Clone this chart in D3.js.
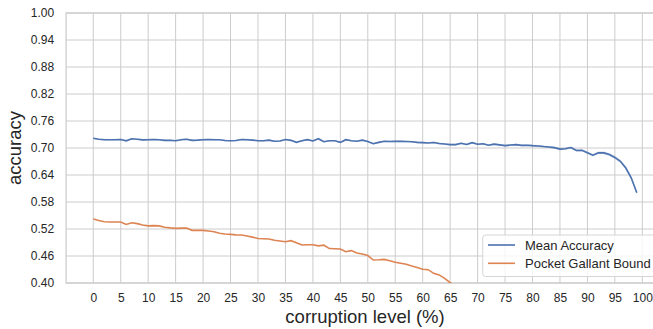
<!DOCTYPE html>
<html><head><meta charset="utf-8">
<script src="https://cdn.jsdelivr.net/npm/d3@7"></script>
<style>body{margin:0;background:#fff}svg{display:block}text{font-family:"Liberation Sans",Arial,sans-serif;fill:#262626}</style>
</head><body>
<svg id="c" width="653" height="329"></svg>
<script>
const meanAcc = [0.7215,0.7195,0.7185,0.7182,0.7185,0.719,0.716,0.7205,0.7195,0.718,
0.7185,0.7188,0.7183,0.717,0.7172,0.7162,0.7185,0.7195,0.717,0.7175,
0.7185,0.719,0.7185,0.7182,0.7165,0.7162,0.7168,0.719,0.7185,0.7175,
0.716,0.716,0.7175,0.715,0.7155,0.719,0.717,0.7125,0.716,0.7185,
0.7155,0.7207,0.714,0.7162,0.716,0.7125,0.7185,0.716,0.715,0.7175,
0.7145,0.7096,0.7125,0.715,0.7145,0.715,0.7148,0.7145,0.7138,0.7125,
0.712,0.7112,0.7122,0.710,0.7088,0.7075,0.7075,0.7105,0.7078,0.7118,
0.7085,0.7095,0.7062,0.7085,0.707,0.7052,0.7065,0.7075,0.7058,0.7062,
0.7052,0.7045,0.7032,0.7022,0.7008,0.6975,0.6985,0.701,0.6945,0.6948,
0.6896,0.684,0.6895,0.6892,0.6855,0.679,0.6705,0.6555,0.633,0.6007];
const ciHalf = [0.0018,0.0018,0.0018,0.0018,0.0018,0.0018,0.0018,0.0018,0.0018,0.0018,
0.0018,0.0018,0.0018,0.0018,0.0018,0.0018,0.0018,0.0018,0.0018,0.0018,
0.0018,0.0018,0.0018,0.0018,0.0018,0.0018,0.0018,0.0018,0.0018,0.0018,
0.0018,0.0018,0.0018,0.0018,0.0018,0.0018,0.0018,0.0018,0.0018,0.0018,
0.0018,0.0018,0.0018,0.0018,0.0018,0.0018,0.0018,0.0018,0.0018,0.0018,
0.0018,0.0018,0.0018,0.0018,0.0018,0.0018,0.0018,0.0018,0.0018,0.0018,
0.002,0.002,0.002,0.002,0.002,0.002,0.002,0.002,0.002,0.002,
0.002,0.002,0.002,0.002,0.002,0.002,0.002,0.002,0.002,0.002,
0.0022,0.0022,0.0022,0.0022,0.0022,0.0024,0.0024,0.0024,0.0025,0.0025,
0.0026,0.0027,0.0028,0.0029,0.003,0.0032,0.0034,0.0036,0.0038,0.004];
const gallantBound = [0.5422,0.539,0.536,0.5355,0.5355,0.5355,0.530,0.534,0.532,0.529,
0.527,0.5275,0.527,0.524,0.5225,0.5215,0.522,0.522,0.517,0.517,
0.517,0.5155,0.514,0.5105,0.509,0.508,0.507,0.5067,0.5044,0.502,
0.499,0.4985,0.4978,0.495,0.4935,0.4918,0.494,0.4895,0.4845,0.485,
0.485,0.4825,0.484,0.4765,0.476,0.4755,0.4696,0.472,0.4665,0.4645,
0.461,0.4511,0.4515,0.4525,0.4495,0.446,0.444,0.4415,0.4378,0.4345,
0.4304,0.4296,0.4215,0.418,0.4104,0.4006,0.394];
const xTicks = [0,5,10,15,20,25,30,35,40,45,50,55,60,65,70,75,80,85,90,95,100];
const yTicks = [0.40,0.46,0.52,0.58,0.64,0.70,0.76,0.82,0.88,0.94,1.00];
const seriesNames = ["Mean Accuracy","Pocket Gallant Bound"];
const colors = ["#4c72b0","#dd8452"];

const svg = d3.select("#c");
const L = 66.1, R = 664, T = 13, B = 283;
const x = d3.scaleLinear().domain([-4.95, 103.95]).range([L, R]);
const y = d3.scaleLinear().domain([0.40, 1.00]).range([B, T]);

svg.append("defs").append("clipPath").attr("id","clip")
  .append("rect").attr("x",L).attr("y",T).attr("width",R-L).attr("height",B-T);

// grid
const g = svg.append("g");
g.selectAll(".vg").data(xTicks).join("line")
  .attr("x1",d=>x(d)).attr("x2",d=>x(d)).attr("y1",T).attr("y2",B)
  .attr("stroke","#cccccc").attr("stroke-width",1);
g.selectAll(".hg").data(yTicks).join("line")
  .attr("x1",L).attr("x2",R).attr("y1",d=>y(d)).attr("y2",d=>y(d))
  .attr("stroke","#cccccc").attr("stroke-width",1);

// frame
svg.append("rect").attr("x",L).attr("y",T).attr("width",R-L).attr("height",B-T)
  .attr("fill","none").attr("stroke","#cccccc").attr("stroke-width",1.25);

// axes using d3 axis for labels
const xAxis = d3.axisBottom(x).tickValues(xTicks).tickSize(0).tickPadding(10).tickFormat(d3.format("d"));
const xa = svg.append("g").attr("transform",`translate(0,${B})`).call(xAxis);
xa.select(".domain").remove();
xa.selectAll("text").attr("font-size",12).attr("fill","#262626").style("font-family","Liberation Sans, Arial, sans-serif");

const yAxis = d3.axisLeft(y).tickValues(yTicks).tickSize(0).tickPadding(12).tickFormat(d3.format(".2f"));
const ya = svg.append("g").attr("transform",`translate(${L},0)`).call(yAxis);
ya.select(".domain").remove();
ya.selectAll("text").attr("font-size",12).attr("fill","#262626").style("font-family","Liberation Sans, Arial, sans-serif");

const plot = svg.append("g").attr("clip-path","url(#clip)");
const idx = d3.range(meanAcc.length);
plot.append("path").datum(idx)
  .attr("d", d3.area().x(i=>x(i)).y0(i=>y(meanAcc[i]-ciHalf[i])).y1(i=>y(meanAcc[i]+ciHalf[i])))
  .attr("fill",colors[0]).attr("fill-opacity",0.25);
plot.append("path").datum(meanAcc)
  .attr("d", d3.line().x((d,i)=>x(i)).y(d=>y(d)))
  .attr("fill","none").attr("stroke",colors[0]).attr("stroke-width",1.6);
plot.append("path").datum(gallantBound)
  .attr("d", d3.line().x((d,i)=>x(i)).y(d=>y(d)))
  .attr("fill","none").attr("stroke",colors[1]).attr("stroke-width",1.6);

// axis titles
svg.append("text").attr("x",(L+R)/2).attr("y",323).attr("text-anchor","middle")
  .attr("font-size",18.5).text("corruption level (%)");
svg.append("text").attr("transform",`translate(21,${(T+B)/2}) rotate(-90)`).attr("text-anchor","middle")
  .attr("font-size",18.5).text("accuracy");

// legend
const lg = svg.append("g");
lg.append("rect").attr("x",482.7).attr("y",235).attr("width",176).attr("height",41.5)
  .attr("rx",3).attr("fill","#ffffff").attr("fill-opacity",0.8).attr("stroke","#d6d6d6").attr("stroke-width",1);
seriesNames.forEach((n,i)=>{
  const yy = 245 + i*18.3;
  lg.append("line").attr("x1",488).attr("x2",515).attr("y1",yy).attr("y2",yy)
    .attr("stroke",colors[i]).attr("stroke-width",1.6);
  lg.append("text").attr("x",525).attr("y",yy).attr("dy","0.36em").attr("font-size",13).text(n);
});
</script>
</body></html>
